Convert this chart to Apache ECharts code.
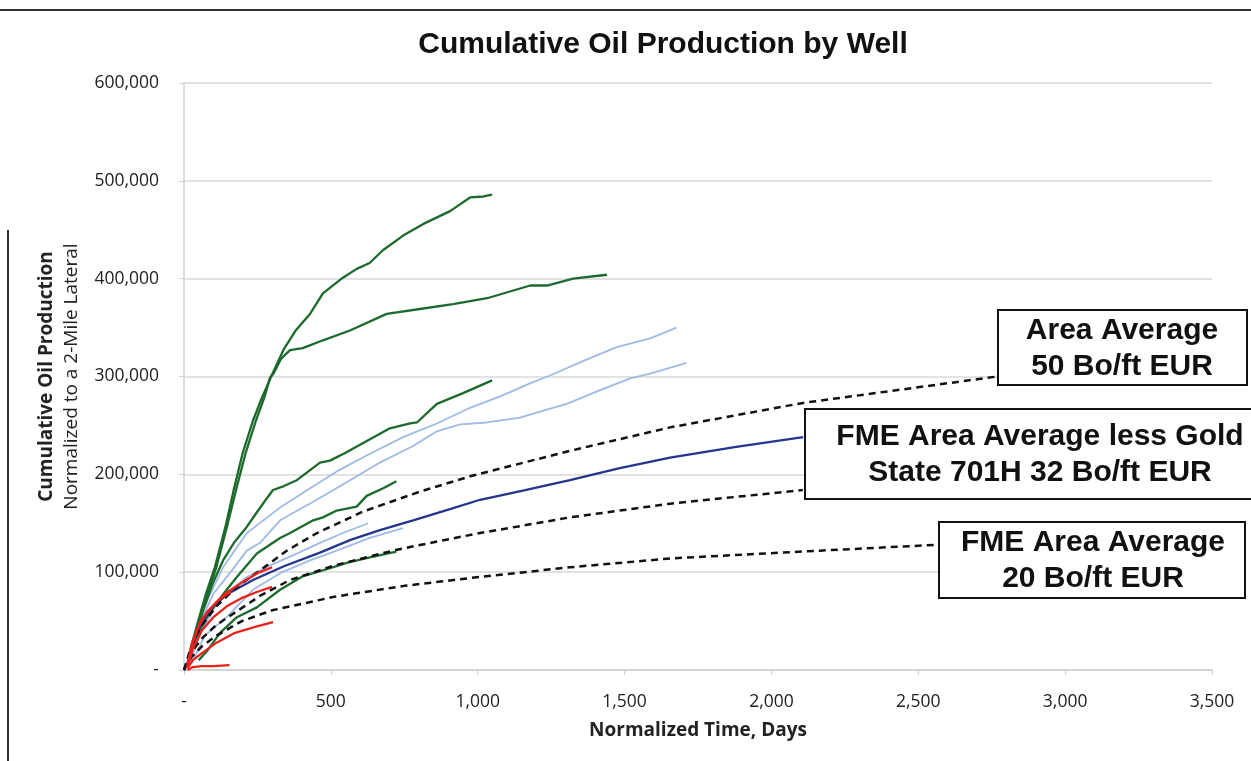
<!DOCTYPE html>
<html>
<head>
<meta charset="utf-8">
<script src="https://cdn.jsdelivr.net/npm/echarts@6/dist/echarts.min.js"></script>
<style>
html,body{margin:0;padding:0;background:#fff;}
#chart{width:1251px;height:761px;}
</style>
</head>
<body>
<div id="chart"></div>
<script>
// ---- Data (days, cumulative bbl) ----
const title = 'Cumulative Oil Production by Well';
const xName = 'Normalized Time, Days';
const yName1 = 'Cumulative Oil Production';
const yName2 = 'Normalized to a 2-Mile Lateral';

// Dark green wells
const green1 = [[15,12000],[30,30000],[50,52000],[75,78000],[105,105000],[140,145000],[170,185000],[200,222000],[235,255000],[265,278000],[300,302000],[340,328000],[380,347000],[429,364000],[473,385000],[541,401000],[588,410000],[632,416000],[677,429000],[746,444000],[815,456000],[906,469000],[974,483000],[1020,484000],[1049,486000]];
const green2 = [[20,12000],[35,30000],[55,52000],[80,78000],[110,105000],[145,145000],[178,185000],[210,222000],[245,255000],[275,280000],[293,299000],[305,303000],[330,318000],[361,327000],[404,329000],[473,337000],[565,347000],[690,364000],[803,369000],[916,374000],[1032,380000],[1179,393000],[1236,393000],[1325,400000],[1440,404000]];
const green3 = [[20,15000],[40,38000],[65,61000],[100,90000],[133,112000],[170,130000],[213,146000],[250,162000],[276,173000],[303,184000],[340,188000],[384,194000],[463,212000],[497,214000],[550,222000],[610,232000],[701,247000],[770,252000],[793,253000],[861,272000],[950,283000],[1049,296000]];
const green4 = [[20,15000],[43,34000],[70,50000],[100,64000],[140,80000],[180,95000],[248,119000],[327,135000],[361,140000],[440,153000],[473,156000],[520,163000],[588,167000],[622,178000],[680,186000],[723,193000]];
const green5 = [[50,10000],[80,20000],[123,38000],[180,54000],[248,64000],[327,82000],[406,96000],[497,104000],[560,110000],[633,115000],[723,121000]];

// Light blue wells
const lblue1 = [[15,10000],[40,40000],[80,72000],[133,105000],[214,140000],[327,166000],[420,184000],[520,203000],[633,221000],[746,238000],[861,252000],[974,268000],[1087,281000],[1178,293000],[1246,301000],[1360,316000],[1473,330000],[1587,339000],[1677,350000]];
const lblue2 = [[20,10000],[50,45000],[100,78000],[156,99000],[214,122000],[259,130000],[327,153000],[440,172000],[554,192000],[667,212000],[780,229000],[861,244000],[940,251000],[1031,253000],[1144,258000],[1189,262000],[1303,272000],[1417,286000],[1519,298000],[1587,303000],[1711,314000]];
const lblue3 = [[20,8000],[60,40000],[120,72000],[214,95000],[293,107000],[384,119000],[463,130000],[541,140000],[627,150000]];
const lblue4 = [[25,6000],[70,35000],[145,54000],[235,82000],[327,99000],[429,112000],[520,122000],[633,135000],[745,145000]];

// Red wells
const red1 = [[12,2000],[30,30000],[60,52000],[100,66000],[140,78000],[200,90000],[250,99000],[300,105000]];
const red2 = [[12,2000],[30,22000],[60,40000],[100,54000],[150,66000],[200,74000],[250,80000],[300,85000]];
const red3 = [[12,2000],[30,10000],[60,17000],[106,27000],[174,38000],[242,44000],[303,49000]];
const red4 = [[12,0],[30,3000],[60,4000],[100,4000],[155,5000]];
const red5 = [[10,2000],[25,25000],[50,45000],[80,60000],[120,72000],[160,80000]];

// FME Area Average less Gold State 701H (solid dark blue)
const areaAvgLessGold = [[10,5000],[30,28000],[60,48000],[100,65000],[150,78000],[235,92000],[340,106000],[463,120000],[567,133000],[667,143000],[780,153000],[900,164000],[1008,174000],[1150,183000],[1314,194000],[1480,206000],[1655,217000],[1880,228000],[2108,238000]];

// Type curves (dashed)
const type50 = [[0,0],[25,25000],[60,45000],[110,65000],[180,85000],[260,102000],[350,122000],[453,140000],[610,162000],[800,182000],[974,198000],[1314,224000],[1655,248000],[2108,273000],[2769,300000]];
const type32 = [[0,0],[25,18000],[60,32000],[110,46000],[180,60000],[260,76000],[361,92000],[514,107000],[725,123000],[990,139000],[1314,156000],[1655,170000],[2107,184000]];
const type20 = [[0,0],[25,13000],[60,24000],[110,35000],[197,50000],[300,61000],[514,75000],[750,86000],[974,94000],[1314,105000],[1655,114000],[2166,122000],[2565,128000]];

const boxes = [
  {lines:['Area Average','50 Bo/ft EUR'], x:998, y:310, w:249, h:75, cx:1122},
  {lines:['FME Area Average less Gold','State 701H 32 Bo/ft EUR'], x:805, y:409, w:452, h:90, cx:1040},
  {lines:['FME Area Average','20 Bo/ft EUR'], x:939, y:522, w:306, h:76, cx:1093}
];

const GREEN = '#1c6a2c', LBLUE = '#9fbae6', RED = '#e8231c', NAVY = '#22358f';

function line(data, color, width, dashed, z){
  return {type:'line', data:data, showSymbol:false, symbol:'none', smooth:false, silent:true, z:z||2,
    lineStyle:{color:color, width:width, type: dashed ? [7,5] : 'solid'}};
}

const series = [
  line(lblue1, LBLUE, 1.8), line(lblue2, LBLUE, 1.8), line(lblue3, LBLUE, 1.8), line(lblue4, LBLUE, 1.8),
  line(green1, GREEN, 2.3), line(green2, GREEN, 2.3), line(green3, GREEN, 2.3), line(green4, GREEN, 2.3), line(green5, GREEN, 2.3),
  line(areaAvgLessGold, NAVY, 2.3, false, 3),
  line(type50, '#111', 2.5, true, 4), line(type32, '#111', 2.5, true, 4), line(type20, '#111', 2.5, true, 4),
  line(red1, RED, 2.3, false, 5), line(red2, RED, 2.3, false, 5), line(red3, RED, 2.3, false, 5), line(red4, RED, 2.3, false, 5), line(red5, RED, 2.3, false, 5)
];

function fmt(v){ return v === 0 ? '-' : v.toLocaleString('en-US'); }

const graphics = [
  {type:'line', shape:{x1:0,y1:10,x2:1251,y2:10}, style:{stroke:'#333', lineWidth:2}, z:100},
  {type:'line', shape:{x1:8,y1:230,x2:8,y2:761}, style:{stroke:'#333', lineWidth:2}, z:100},
  {type:'text', x:663, y:45, style:{text:title, font:'bold 30px "Liberation Sans", Arial, sans-serif', fill:'#111', align:'center', verticalAlign:'middle'}, z:100}
];
boxes.forEach(b => {
  graphics.push({type:'rect', shape:{x:b.x, y:b.y, width:b.w, height:b.h}, style:{fill:'#fff', stroke:'#111', lineWidth:2}, z:50});
  graphics.push({type:'text', x:b.cx, y:b.y + b.h/2 + 1, style:{text:b.lines.join('\n'), font:'bold 30px "Liberation Sans", Arial, sans-serif', lineHeight:36, fill:'#111', align:'center', verticalAlign:'middle'}, z:51});
});

const chart = echarts.init(document.getElementById('chart'), null, {renderer:'canvas'});
chart.setOption({
  animation:false,
  backgroundColor:'#fff',
  grid:{left:184, right:39, top:83, bottom:91, containLabel:false},
  xAxis:{type:'value', min:0, max:3500, interval:500,
    name:xName, nameLocation:'middle', nameGap:51,
    nameTextStyle:{fontFamily:'Open Sans', fontWeight:'bold', fontSize:19, color:'#222'},
    axisLine:{show:true, lineStyle:{color:'#d0d0d0', width:1.5}},
    axisTick:{show:true, length:5, lineStyle:{color:'#d0d0d0'}},
    splitLine:{show:false},
    axisLabel:{formatter:fmt, fontFamily:'Open Sans', fontSize:17.5, color:'#222', margin:23}
  },
  yAxis:{type:'value', min:0, max:600000, interval:100000,
    name:'{a|' + yName1 + '}\n{b|' + yName2 + '}', nameLocation:'middle', nameRotate:90, nameGap:100,
    nameTextStyle:{rich:{a:{fontFamily:'Open Sans', fontWeight:'bold', fontSize:19, color:'#222', lineHeight:25}, b:{fontFamily:'Open Sans', fontSize:19, color:'#222', lineHeight:25}}},
    axisLine:{show:true, lineStyle:{color:'#d0d0d0', width:1.5}},
    axisTick:{show:true, length:5, lineStyle:{color:'#d0d0d0'}},
    splitLine:{show:true, lineStyle:{color:'#d9d9d9', width:1.5}},
    axisLabel:{formatter:fmt, fontFamily:'Open Sans', fontSize:17.5, color:'#222', margin:25}
  },
  series:series,
  graphic:graphics
});
</script>
</body>
</html>
